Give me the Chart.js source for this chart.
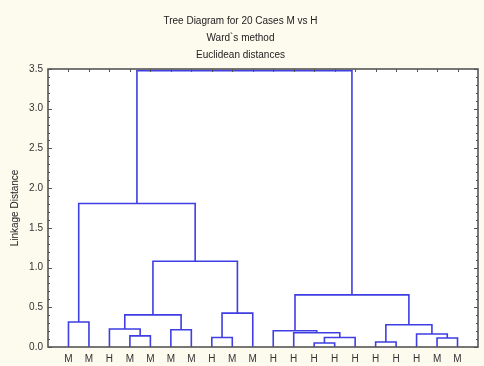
<!DOCTYPE html>
<html><head><meta charset="utf-8">
<script src="https://cdn.jsdelivr.net/npm/chart.js@4/dist/chart.umd.min.js"></script>
<style>html,body{margin:0;padding:0;background:#fdfaee;} #wrap{width:484px;height:366px;position:relative;}</style>
</head><body><div id="wrap"><canvas id="c"></canvas></div>
<script>
// Leaf labels in dendrogram order
const leafLabels = ['M','M','H','M','M','M','M','H','M','M','H','H','H','H','H','H','H','H','M','M'];
// Merges: node ids 0..19 are leaves, merge i creates node 20+i
const mergeLeft   = [3, 2, 5, 21, 7, 24, 23, 0, 27, 12, 29, 11, 10, 15, 18, 17, 33, 32, 28];
const mergeRight  = [4, 20, 6, 22, 8, 9, 25, 1, 26, 13, 14, 30, 31, 16, 19, 34, 35, 36, 37];
const mergeHeight = [0.14, 0.226, 0.217, 0.405, 0.12, 0.427, 1.08, 0.314, 1.807, 0.05, 0.12, 0.18, 0.205, 0.063, 0.113, 0.163, 0.28, 0.656, 3.48];
const yTickLabels = ['0.0','0.5','1.0','1.5','2.0','2.5','3.0','3.5'];
const titleLines = ['Tree Diagram for 20 Cases M vs H', 'Ward`s method', 'Euclidean distances'];
const yTitle = 'Linkage Distance';

const FONT = "'Liberation Sans', Arial, sans-serif";
const LINE = 'rgb(62,62,228)';
const AXIS = '#555';

// build node positions from the tree
const nodeX = leafLabels.map((_, i) => i + 1);
const nodeH = leafLabels.map(() => 0);
const datasets = [];
for (let i = 0; i < mergeLeft.length; i++) {
  const a = mergeLeft[i], b = mergeRight[i], h = mergeHeight[i];
  const xa = nodeX[a], xb = nodeX[b];
  datasets.push({
    data: [{x: xa, y: nodeH[a]}, {x: xa, y: h}, {x: xb, y: h}, {x: xb, y: nodeH[b]}],
    showLine: true, pointRadius: 0, borderColor: LINE, borderWidth: 1.6,
    fill: false, tension: 0, clip: false
  });
  nodeX.push((xa + xb) / 2);
  nodeH.push(h);
}

const bgPlugin = {
  id: 'bg',
  beforeDraw(chart) {
    const {ctx, chartArea: a} = chart;
    ctx.save();
    ctx.fillStyle = '#fdfaee';
    ctx.fillRect(0, 0, chart.width, chart.height);
    ctx.fillStyle = '#ffffff';
    ctx.fillRect(a.left, a.top, a.right - a.left, a.bottom - a.top);
    ctx.restore();
  },
  afterDraw(chart) {
    const {ctx, chartArea: a, scales} = chart;
    ctx.save();
    ctx.strokeStyle = AXIS;
    ctx.lineWidth = 1.6;
    ctx.strokeRect(a.left, a.top, a.right - a.left, a.bottom - a.top);
    ctx.lineWidth = 1;
    ctx.beginPath();
    for (let k = 0; k <= 35; k++) {
      const y = Math.round(scales.y.getPixelForValue(k / 10)) + 0.5;
      const len = (k % 5 === 0) ? 4 : 2;
      ctx.moveTo(a.left, y); ctx.lineTo(a.left + len, y);
      ctx.moveTo(a.right, y); ctx.lineTo(a.right - len, y);
    }
    for (let i = 1; i <= leafLabels.length; i++) {
      const x = Math.round(scales.x.getPixelForValue(i)) + 0.5;
      ctx.moveTo(x, a.top); ctx.lineTo(x, a.top + 3);
    }
    ctx.stroke();
    ctx.restore();
  }
};

new Chart(document.getElementById('c'), {
  type: 'scatter',
  data: { datasets },
  options: {
    responsive: true, maintainAspectRatio: false, animation: false,
    layout: { padding: { left: 0, right: 3, top: 0, bottom: 0 } },
    plugins: {
      legend: { display: false }, tooltip: { enabled: false },
      title: {
        display: true, text: titleLines, color: '#222',
        font: { family: FONT, size: 10, weight: 'normal', lineHeight: 1.7 },
        padding: { top: 12.5, bottom: 5.5 }
      }
    },
    scales: {
      x: {
        type: 'linear', min: 0, max: leafLabels.length + 1,
        grid: { display: false, drawTicks: false },
        border: { display: false },
        ticks: {
          stepSize: 1, autoSkip: false, maxRotation: 0, padding: 6,
          color: '#333', font: { family: FONT, size: 10 },
          callback: v => (v >= 1 && v <= leafLabels.length) ? leafLabels[v - 1] : ''
        },
        afterFit: s => { s.height = 19; }
      },
      y: {
        type: 'linear', min: 0, max: 3.5,
        grid: { display: false, drawTicks: false },
        border: { display: false },
        ticks: {
          stepSize: 0.5, padding: 5, color: '#333', font: { family: FONT, size: 10 },
          callback: (v) => yTickLabels[Math.round(v * 2)]
        },
        title: { display: true, text: yTitle, color: '#222', font: { family: FONT, size: 10 }, padding: { top: 9, bottom: 0 } },
        afterFit: s => { s.width = 48; }
      }
    }
  },
  plugins: [bgPlugin]
});
</script>
</body></html>
